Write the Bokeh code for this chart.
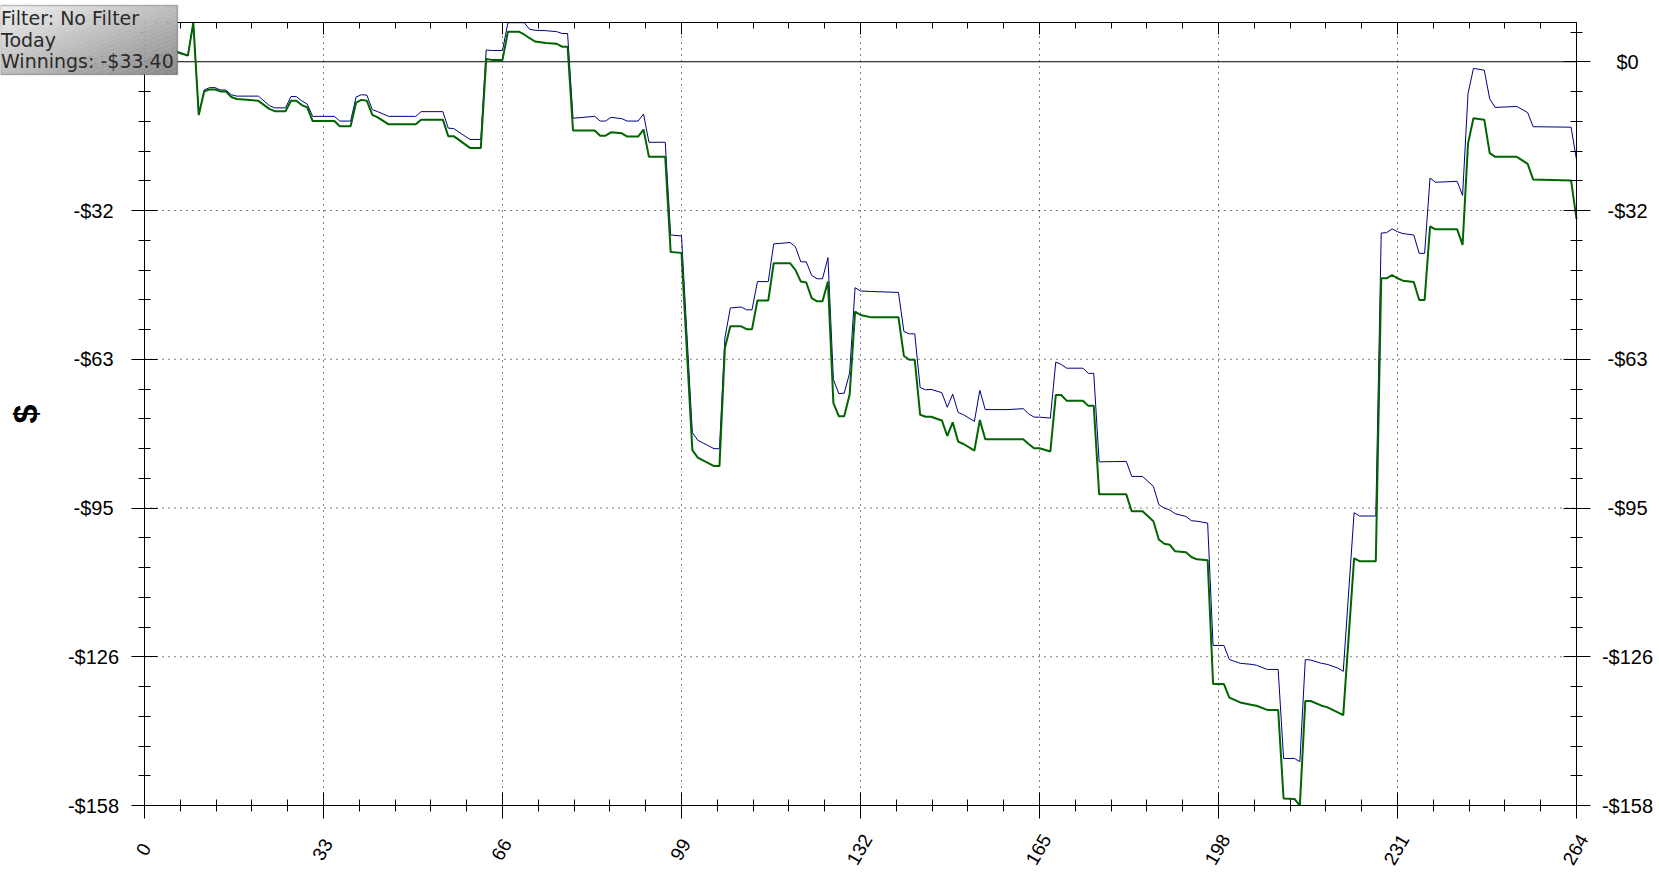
import math
from bokeh.plotting import figure
from bokeh.models import LinearAxis, FixedTicker, Range1d, Label, PolyAnnotation
from bokeh.embed import file_html
from bokeh.resources import INLINE

# ---------------- data ----------------
hands = [0, 3, 6, 8, 9, 10, 11, 12, 13, 14, 15, 16, 17, 21, 23, 24, 26, 27, 28, 29,
         30, 31, 35, 36, 38, 39, 40, 41, 42, 43, 45, 50, 51, 55, 56, 57, 60, 62, 63, 64,
         66, 67, 69, 70, 71, 72, 74, 76, 77, 78, 79, 83, 84, 85, 86, 88, 89, 91, 92, 93,
         96, 97, 99, 101, 102, 105, 106, 107, 108, 110, 111, 112, 113, 115, 116, 119, 120, 121, 122, 123,
         124, 125, 126, 127, 128, 129, 130, 131, 132, 134, 139, 140, 141, 142, 143, 144, 145, 147, 148, 149,
         150, 151, 153, 154, 155, 159, 162, 163, 164, 165, 167, 168, 169, 170, 173, 174, 175, 176, 181, 182,
         184, 186, 187, 188, 189, 190, 192, 193, 194, 196, 197, 199, 200, 202, 204, 205, 207, 209, 210, 212,
         213, 214, 215, 217, 218, 220, 221, 223, 224, 227, 228, 229, 230, 231, 232, 234, 235, 236, 237, 238,
         242, 243, 244, 245, 247, 248, 249, 253, 255, 256, 263, 264]

winnings = [0.0, 1.5, 2.0, 1.3, 8.3, -11.3, -6.3, -5.9, -5.9, -6.3, -6.3, -7.5, -7.9, -8.3, -10.0, -10.5, -10.5, -8.3, -8.3, -9.2,
            -9.7, -12.6, -12.6, -13.7, -13.7, -8.7, -8.1, -8.3, -11.3, -11.8, -13.3, -13.3, -12.3, -12.3, -15.8, -15.8, -18.3, -18.3, 0.6, 0.4,
            0.4, 6.4, 6.4, 5.8, 5.0, 4.3, 4.0, 3.8, 3.2, 3.2, -14.6, -14.6, -15.7, -15.7, -15.0, -15.2, -15.9, -15.9, -14.4, -20.2,
            -20.2, -40.4, -40.6, -82.5, -84.1, -85.9, -85.9, -60.8, -56.2, -56.2, -56.8, -56.8, -50.7, -50.7, -42.8, -42.8, -44.2, -46.7, -46.9, -50.2,
            -50.9, -50.9, -46.7, -72.5, -75.3, -75.3, -70.7, -53.1, -53.8, -54.3, -54.3, -62.5, -63.3, -63.3, -75.0, -75.4, -75.4, -76.2, -79.5, -76.6,
            -80.7, -81.2, -82.6, -76.1, -80.2, -80.2, -80.2, -81.2, -82.1, -82.1, -82.8, -70.8, -70.8, -72.0, -72.0, -73.1, -73.1, -91.9, -91.9, -95.5,
            -95.5, -97.6, -101.5, -102.4, -102.6, -104.0, -104.2, -105.2, -105.7, -105.9, -132.2, -132.2, -135.1, -136.1, -136.6, -136.8, -137.7, -137.7, -156.5, -156.6,
            -158.0, -135.8, -135.8, -136.8, -137.1, -138.2, -138.8, -105.5, -106.1, -106.1, -46.0, -46.0, -45.3, -46.0, -46.5, -46.8, -50.6, -50.6, -35.0, -35.6,
            -35.6, -38.9, -17.4, -12.0, -12.3, -19.4, -20.2, -20.2, -21.7, -25.0, -25.2, -33.4]

winnings_pre = [0.0, 1.5, 2.2, 1.4, 8.3, -11.3, -6.0, -5.5, -5.5, -6.0, -6.0, -7.0, -7.3, -7.3, -9.3, -9.8, -9.8, -7.4, -7.4, -8.3,
                -9.0, -11.6, -11.6, -12.6, -12.6, -7.5, -7.0, -7.1, -10.2, -10.6, -11.6, -11.6, -10.6, -10.6, -14.1, -14.2, -16.5, -16.5, 2.5, 2.4,
                2.4, 8.3, 8.3, 8.3, 6.9, 6.7, 6.6, 6.4, 6.0, 6.0, -12.0, -11.6, -12.6, -12.6, -11.8, -12.1, -12.6, -12.6, -11.1, -17.1,
                -17.1, -36.8, -37.0, -78.8, -80.4, -82.2, -82.2, -58.7, -52.3, -52.1, -52.7, -52.7, -46.7, -46.7, -38.7, -38.4, -39.3, -42.5, -42.5, -45.4,
                -46.1, -46.1, -41.6, -67.5, -70.5, -70.4, -66.1, -48.0, -48.7, -48.8, -49.0, -57.3, -57.8, -57.8, -69.2, -69.7, -69.6, -70.3, -73.4, -70.6,
                -74.5, -75.0, -76.4, -69.8, -73.9, -73.9, -73.7, -74.8, -75.5, -75.5, -75.7, -63.8, -64.3, -65.1, -65.1, -66.2, -66.2, -85.0, -84.9, -88.1,
                -88.1, -90.2, -94.1, -94.8, -95.2, -96.0, -96.6, -97.5, -97.6, -98.0, -124.0, -124.0, -127.0, -127.8, -128.0, -128.2, -129.1, -129.1, -148.0, -148.0,
                -148.7, -127.0, -127.1, -127.8, -128.0, -128.8, -129.5, -95.8, -96.5, -96.5, -36.4, -36.3, -35.5, -36.1, -36.5, -36.8, -40.7, -40.7, -24.7, -25.6,
                -25.4, -28.4, -6.8, -1.4, -1.8, -7.9, -9.7, -9.5, -10.8, -13.8, -13.9, -20.8]

x_ticks = [0, 33, 66, 99, 132, 165, 198, 231, 264]
x_tick_labels = ["0", "33", "66", "99", "132", "165", "198", "231", "264"]
y_ticks = [0, -31.6, -63.2, -94.8, -126.4, -158.0]
y_tick_labels = ["$0", "-$32", "-$63", "-$95", "-$126", "-$158"]
y_title = "$"
info_lines = ["Filter: No Filter", "Today", "Winnings: -$33.40"]

# ---------------- layout (canvas pixels) ----------------
W, H = 1655, 875
FL, FT, FW, FH = 144, 22, 1432, 783        # plotting box inside the canvas
X0, X1 = x_ticks[0], x_ticks[-1]
Y0, Y1 = y_ticks[-1], 8.34

def dx(px):
    return X0 + (px - FL) * (X1 - X0) / FW

def dy(py):
    return Y1 - (py - FT) * (Y1 - Y0) / FH

p = figure(width=W, height=H, output_backend="svg", toolbar_location=None,
           x_range=Range1d(dx(0), dx(W)), y_range=Range1d(dy(H), dy(0)),
           x_axis_location=None, y_axis_location=None,
           min_border=0, min_border_left=0, min_border_right=0, min_border_top=0, min_border_bottom=0,
           background_fill_color="white", border_fill_color="white")
p.outline_line_color = None
p.grid.visible = False

x_minor = [i * 6.6 for i in range(41)]
y_minor = [6.32 - 6.32 * i for i in range(27)]

def frame_axis(side, loc, bounds, positions, t_in, t_out):
    a = LinearAxis(fixed_location=loc, bounds=bounds,
                   ticker=FixedTicker(ticks=[], minor_ticks=positions),
                   major_tick_in=0, major_tick_out=0,
                   minor_tick_in=t_in, minor_tick_out=t_out,
                   minor_tick_line_color="black", axis_line_color="black",
                   axis_line_width=1, minor_tick_line_width=1)
    p.add_layout(a, side)

# bottom
frame_axis("below", Y0, (X0, X1), x_minor, 6, 6)
frame_axis("below", Y0, (X0, X1), x_ticks, 13, 13)
# top (ticks inward only)
frame_axis("above", Y1, (X0, X1), x_minor, 6, 0)
frame_axis("above", Y1, (X0, X1), x_ticks, 12, 0)
# left
frame_axis("left", X0, (Y0, Y1), y_minor, 6, 6)
frame_axis("left", X0, (Y0, Y1), y_ticks, 13, 13)
# right
frame_axis("right", X1, (Y0, Y1), y_minor, 6, 6)
frame_axis("right", X1, (Y0, Y1), y_ticks, 13, 14)

# dotted grid inside the plotting box
gx = x_ticks[1:-1]
gy = y_ticks[1:-1]
p.segment(x0=gx, y0=[Y0] * len(gx), x1=gx, y1=[Y1] * len(gx),
          line_color="black", line_width=1, line_dash="1 5", level="underlay")
p.segment(x0=[X0] * len(gy), y0=gy, x1=[X1] * len(gy), y1=gy,
          line_color="black", line_width=1, line_dash="1 5", level="underlay")
# solid zero line
p.segment(x0=[X0], y0=[y_ticks[0]], x1=[X1], y1=[y_ticks[0]], line_color="black", line_width=1)

# ---------------- series ----------------
p.line(hands, winnings_pre, line_color="#000080", line_width=1)
p.line(hands, winnings, line_color="#006400", line_width=2)

# ---------------- tick labels ----------------
FONT = "Liberation Sans"
for v, t in zip(y_ticks, y_tick_labels):
    for cx in (93, 1627):
        p.add_layout(Label(x=dx(cx), y=v, text=t, text_font=FONT, text_font_size="20px",
                           text_color="black", text_align="center", text_baseline="middle"))
for v, t in zip(x_ticks, x_tick_labels):
    p.add_layout(Label(x=v, y=dy(849), x_offset=-1, text=t, text_font=FONT, text_font_size="19px",
                       text_color="black", text_align="center", text_baseline="middle",
                       angle=math.radians(60)))
p.add_layout(Label(x=dx(24), y=dy(413.5), text=y_title, text_font=FONT, text_font_size="34px",
                   text_font_style="bold", text_color="black", text_align="center",
                   text_baseline="middle", angle=math.pi / 2))

# ---------------- info box (diagonal gray gradient) ----------------
BX0, BX1, BY0, BY1 = 0, 177, 5, 74

def clip(poly, c, keep_ge):
    out = []
    n = len(poly)
    for i in range(n):
        P, Q = poly[i], poly[(i + 1) % n]
        fp = P[0] + P[1] - c
        fq = Q[0] + Q[1] - c
        inp = fp >= 0 if keep_ge else fp <= 0
        inq = fq >= 0 if keep_ge else fq <= 0
        if inp:
            out.append(P)
        if inp != inq:
            t = fp / (fp - fq)
            out.append((P[0] + t * (Q[0] - P[0]), P[1] + t * (Q[1] - P[1])))
    return out

N = 32
sq = [(0, 0), (1, 0), (1, 1), (0, 1)]
for i in range(N):
    c1, c2 = 2 * i / N, 2 * (i + 1) / N
    poly = clip(clip(sq, c1, True), c2, False)
    if len(poly) < 3:
        continue
    tm = (i + 0.5) / N
    gval = int(round(0xF2 - (0xF2 - 0x88) * tm))
    col = "#%02x%02x%02x" % (gval, gval, gval)
    xs = [dx(BX0 + u * (BX1 - BX0)) for u, v in poly]
    ys = [dy(BY0 + v * (BY1 - BY0)) for u, v in poly]
    p.add_layout(PolyAnnotation(xs=xs, ys=ys, fill_color=col, fill_alpha=1.0,
                                line_color=col, line_width=1))

p.add_layout(PolyAnnotation(xs=[dx(BX0), dx(BX1), dx(BX1), dx(BX0)],
                            ys=[dy(BY0), dy(BY0), dy(BY1), dy(BY1)],
                            fill_alpha=0, line_color="#3c3c3c", line_width=1.5))

for txt, b in zip(info_lines, [17.8, 39.0, 60.2]):
    p.add_layout(Label(x=dx(0.5), y=dy(b), text=txt, text_font="DejaVu Sans",
                       text_font_size="19px", text_color="#2a2a2a",
                       text_baseline="alphabetic", text_align="left"))

open("out.html", "w").write(file_html(p, INLINE))
